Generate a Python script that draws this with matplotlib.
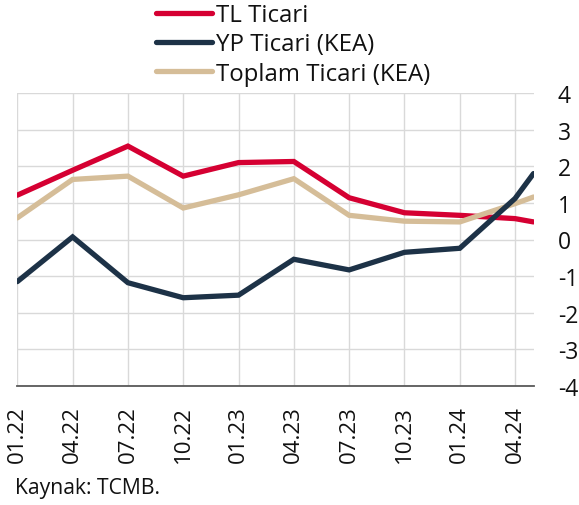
import matplotlib
matplotlib.use("Agg")
import matplotlib.pyplot as plt

plt.rcParams['font.family'] = ['Open Sans', 'DejaVu Sans']

# month index from 01.22
months = [0, 3, 6, 9, 12, 15, 18, 21, 24, 27, 28]
tick_labels = ["01.22", "04.22", "07.22", "10.22", "01.23", "04.23",
               "07.23", "10.23", "01.24", "04.24"]
tick_pos = [0, 3, 6, 9, 12, 15, 18, 21, 24, 27]

tl_ticari = [1.21, 1.89, 2.55, 1.73, 2.10, 2.13, 1.14, 0.73, 0.66, 0.57, 0.48]
yp_ticari = [-1.15, 0.07, -1.18, -1.59, -1.52, -0.54, -0.83, -0.35, -0.24, 1.12, 1.80]
toplam_ticari = [0.59, 1.64, 1.73, 0.86, 1.22, 1.66, 0.66, 0.50, 0.48, 0.98, 1.16]

yticks = [-4, -3, -2, -1, 0, 1, 2, 3, 4]

W, H = 579, 506
fig = plt.figure(figsize=(W / 100, H / 100), dpi=100)
ax = fig.add_axes([17.3 / W, 1 - 387 / H, (533.5 - 17.3) / W, (387 - 94) / H])

red = "#D50032"
navy = "#1D3247"
tan = "#D5BD98"
lw = 3.8

ax.plot(months, tl_ticari, color=red, lw=lw, solid_capstyle='round', solid_joinstyle='miter', label="TL Ticari", zorder=3)
ax.plot(months, yp_ticari, color=navy, lw=lw, solid_capstyle='round', solid_joinstyle='miter', label="YP Ticari (KEA)", zorder=4)
ax.plot(months, toplam_ticari, color=tan, lw=lw, solid_capstyle='round', solid_joinstyle='miter', label="Toplam Ticari (KEA)", zorder=3)

ax.set_xlim(0, 28)
ax.set_ylim(-4, 4)
ax.set_xticks(tick_pos)
ax.set_xticklabels(tick_labels, rotation=90, fontsize=16, color="#111111")
ax.set_yticks(yticks)
ax.set_yticklabels([str(v) for v in yticks], fontsize=16.5, color="#111111", ha='left')
ax.yaxis.tick_right()
ax.tick_params(axis='y', length=0, pad=17.5)
ax.tick_params(axis='x', length=0, pad=14)

ax.grid(True, color="#D9D9D9", lw=1.0)
ax.set_axisbelow(True)
for s in ['top', 'right', 'left']:
    ax.spines[s].set_visible(False)
ax.spines['bottom'].set_color("#595959")
ax.spines['bottom'].set_linewidth(1.3)

leg = fig.legend(loc='upper left', bbox_to_anchor=(156 / W, 1 - 4 / H), frameon=False,
                 fontsize=17.3, handlelength=2.33, handletextpad=0.17, labelspacing=0.22,
                 borderpad=0, borderaxespad=0)
for t in leg.get_texts():
    t.set_color("#111111")

fig.text(15 / W, 1 - 489 / H, "Kaynak: TCMB.", fontsize=15.2, color="#111111", va='center', ha='left')

fig.savefig("out.png", dpi=100)
